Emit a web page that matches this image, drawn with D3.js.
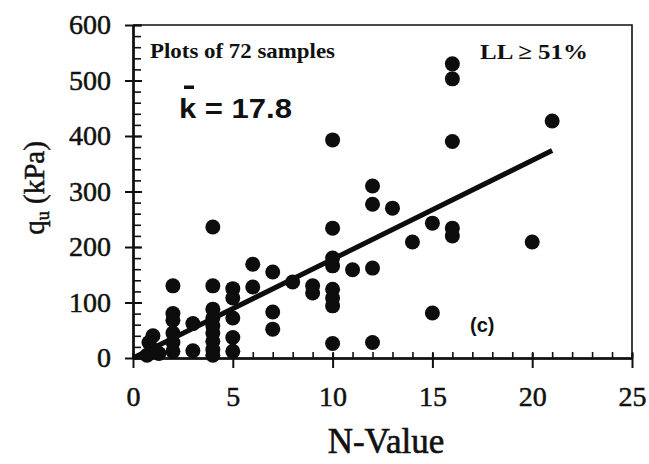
<!DOCTYPE html>
<html>
<head>
<meta charset="utf-8">
<script src="https://cdn.jsdelivr.net/npm/d3@7/dist/d3.min.js"></script>
<style>
  html, body { margin: 0; padding: 0; background: #fff; }
  svg { display: block; }
</style>
</head>
<body>
<svg id="chart" width="649" height="464"></svg>
<script>
// ---- data ----
const nValues = [1, 0.8, 1, 1.3, 0.7,
  2, 2, 2, 2, 2, 2,
  3, 3,
  4, 4, 4, 4, 4, 4, 4, 4, 4,
  5, 5, 5, 5, 5,
  6, 6,
  7, 7, 7,
  8,
  9, 9,
  10, 10, 10, 10, 10, 10, 10, 10,
  11,
  12, 12, 12, 12,
  13,
  14,
  15, 15,
  16, 16, 16, 16, 16,
  20,
  21];
const quValues = [40, 28, 15, 8, 5,
  130, 80, 68, 45, 28, 12,
  62, 13,
  236, 130, 88, 72, 58, 45, 30, 15, 5,
  125, 108, 72, 37, 12,
  169, 128,
  155, 83, 52,
  137,
  130, 117,
  393, 234, 180, 166, 124, 108, 94, 26,
  159,
  310, 277, 162, 28,
  270,
  209,
  243, 81,
  530, 503, 390, 234, 220,
  209,
  427];
const kMean = 17.8;
const fitRange = [0, 21];
const xTicks = [0, 5, 10, 15, 20, 25];
const yTicks = [0, 100, 200, 300, 400, 500, 600];
const xMinor = d3.range(0, 26, 1);
const yMinor = d3.range(0, 601, 20);

// ---- layout ----
const svg = d3.select("#chart");
const mLeft = 133, mRight = 632, mTop = 25, mBottom = 358;
const x = d3.scaleLinear().domain([0, 25]).range([mLeft, mRight]);
const y = d3.scaleLinear().domain([0, 600]).range([mBottom, mTop]);

const ink = "#111";
const serif = "'Liberation Serif', 'DejaVu Serif', serif";
const sans = "'Liberation Sans', Arial, sans-serif";

// frame (top and right)
svg.append("path")
  .attr("d", `M${mLeft},${mTop}H${mRight}V${mBottom}`)
  .attr("fill", "none").attr("stroke", ink).attr("stroke-width", 1.6);

function styleAxis(g) {
  g.select(".domain").attr("stroke", ink).attr("stroke-width", 2);
  g.selectAll(".tick line").attr("stroke", ink).attr("stroke-width", 1.6);
}
function styleLabels(g) {
  g.selectAll(".tick text")
    .attr("font-family", serif).attr("font-size", 28)
    .attr("fill", ink).attr("stroke", ink).attr("stroke-width", 0.5);
}

// x axis
svg.append("g").attr("transform", `translate(0,${mBottom})`)
  .call(d3.axisBottom(x).tickValues(xMinor).tickSize(-6).tickSizeOuter(0).tickFormat(""))
  .call(styleAxis);
svg.append("g").attr("transform", `translate(0,${mBottom})`)
  .call(d3.axisBottom(x).tickValues(xTicks).tickSize(-5).tickSizeOuter(0).tickFormat(""))
  .call(styleAxis).call(g => g.selectAll(".tick line").attr("stroke-width", 2));
svg.append("g").attr("transform", `translate(0,${mBottom})`)
  .call(d3.axisBottom(x).tickValues(xTicks).tickSize(10).tickSizeOuter(0).tickPadding(18))
  .call(styleAxis).call(g => g.selectAll(".tick line").attr("stroke-width", 2))
  .call(styleLabels);

// y axis
svg.append("g").attr("transform", `translate(${mLeft},0)`)
  .call(d3.axisLeft(y).tickValues(yMinor).tickSize(-8).tickSizeOuter(0).tickFormat(""))
  .call(styleAxis);
svg.append("g").attr("transform", `translate(${mLeft},0)`)
  .call(d3.axisLeft(y).tickValues(yTicks).tickSize(-9).tickSizeOuter(0).tickFormat(""))
  .call(styleAxis).call(g => g.selectAll(".tick line").attr("stroke-width", 2));
svg.append("g").attr("transform", `translate(${mLeft},0)`)
  .call(d3.axisLeft(y).tickValues(yTicks).tickSize(8).tickSizeOuter(0).tickPadding(14))
  .call(styleAxis).call(g => g.selectAll(".tick line").attr("stroke-width", 2))
  .call(styleLabels);

// axis titles
svg.append("text")
  .attr("x", 386).attr("y", 453)
  .attr("text-anchor", "middle")
  .attr("font-family", serif).attr("font-size", 35)
  .attr("fill", ink).attr("stroke", ink).attr("stroke-width", 0.6)
  .text("N-Value");

const yt = svg.append("text")
  .attr("transform", "translate(44,188) rotate(-90)")
  .attr("text-anchor", "middle")
  .attr("font-family", serif).attr("font-size", 29)
  .attr("fill", ink).attr("stroke", ink).attr("stroke-width", 0.5);
yt.append("tspan").attr("fill", ink).text("q");
yt.append("tspan").attr("fill", ink).attr("font-size", 18).attr("dy", 5).text("u");
yt.append("tspan").attr("fill", ink).attr("dy", -5).text(" (kPa)");

// points
const pts = nValues.map((n, i) => ({n, q: quValues[i]}));
svg.append("g").selectAll("circle").data(pts).join("circle")
  .attr("cx", d => x(d.n)).attr("cy", d => y(d.q)).attr("r", 7.5)
  .attr("fill", "#0d0d0d");

// fitted line q = k * N
svg.append("line")
  .attr("x1", x(fitRange[0])).attr("y1", y(kMean * fitRange[0]))
  .attr("x2", x(fitRange[1])).attr("y2", y(kMean * fitRange[1]))
  .attr("stroke", "#0d0d0d").attr("stroke-width", 5).attr("stroke-linecap", "butt");

// annotations
svg.append("text")
  .attr("x", 150).attr("y", 58)
  .attr("font-family", serif).attr("font-size", 21).attr("font-weight", "bold")
  .attr("textLength", 185).attr("lengthAdjust", "spacingAndGlyphs")
  .attr("fill", ink).text("Plots of 72 samples");
svg.append("text")
  .attr("x", 480).attr("y", 59)
  .attr("font-family", serif).attr("font-size", 22).attr("font-weight", "bold")
  .attr("textLength", 108).attr("lengthAdjust", "spacingAndGlyphs")
  .attr("fill", ink).text("LL \u2265 51%");
svg.append("text")
  .attr("x", 179).attr("y", 118)
  .attr("font-family", sans).attr("font-size", 28).attr("font-weight", "bold")
  .attr("textLength", 113).attr("lengthAdjust", "spacingAndGlyphs")
  .attr("fill", ink).text("k = " + kMean.toFixed(1));
svg.append("rect")
  .attr("x", 184).attr("y", 85.5).attr("width", 10).attr("height", 3.5)
  .attr("fill", ink);
svg.append("text")
  .attr("x", 470).attr("y", 332)
  .attr("font-family", sans).attr("font-size", 20).attr("font-weight", "bold")
  .attr("fill", ink).text("(c)");
</script>
</body>
</html>
